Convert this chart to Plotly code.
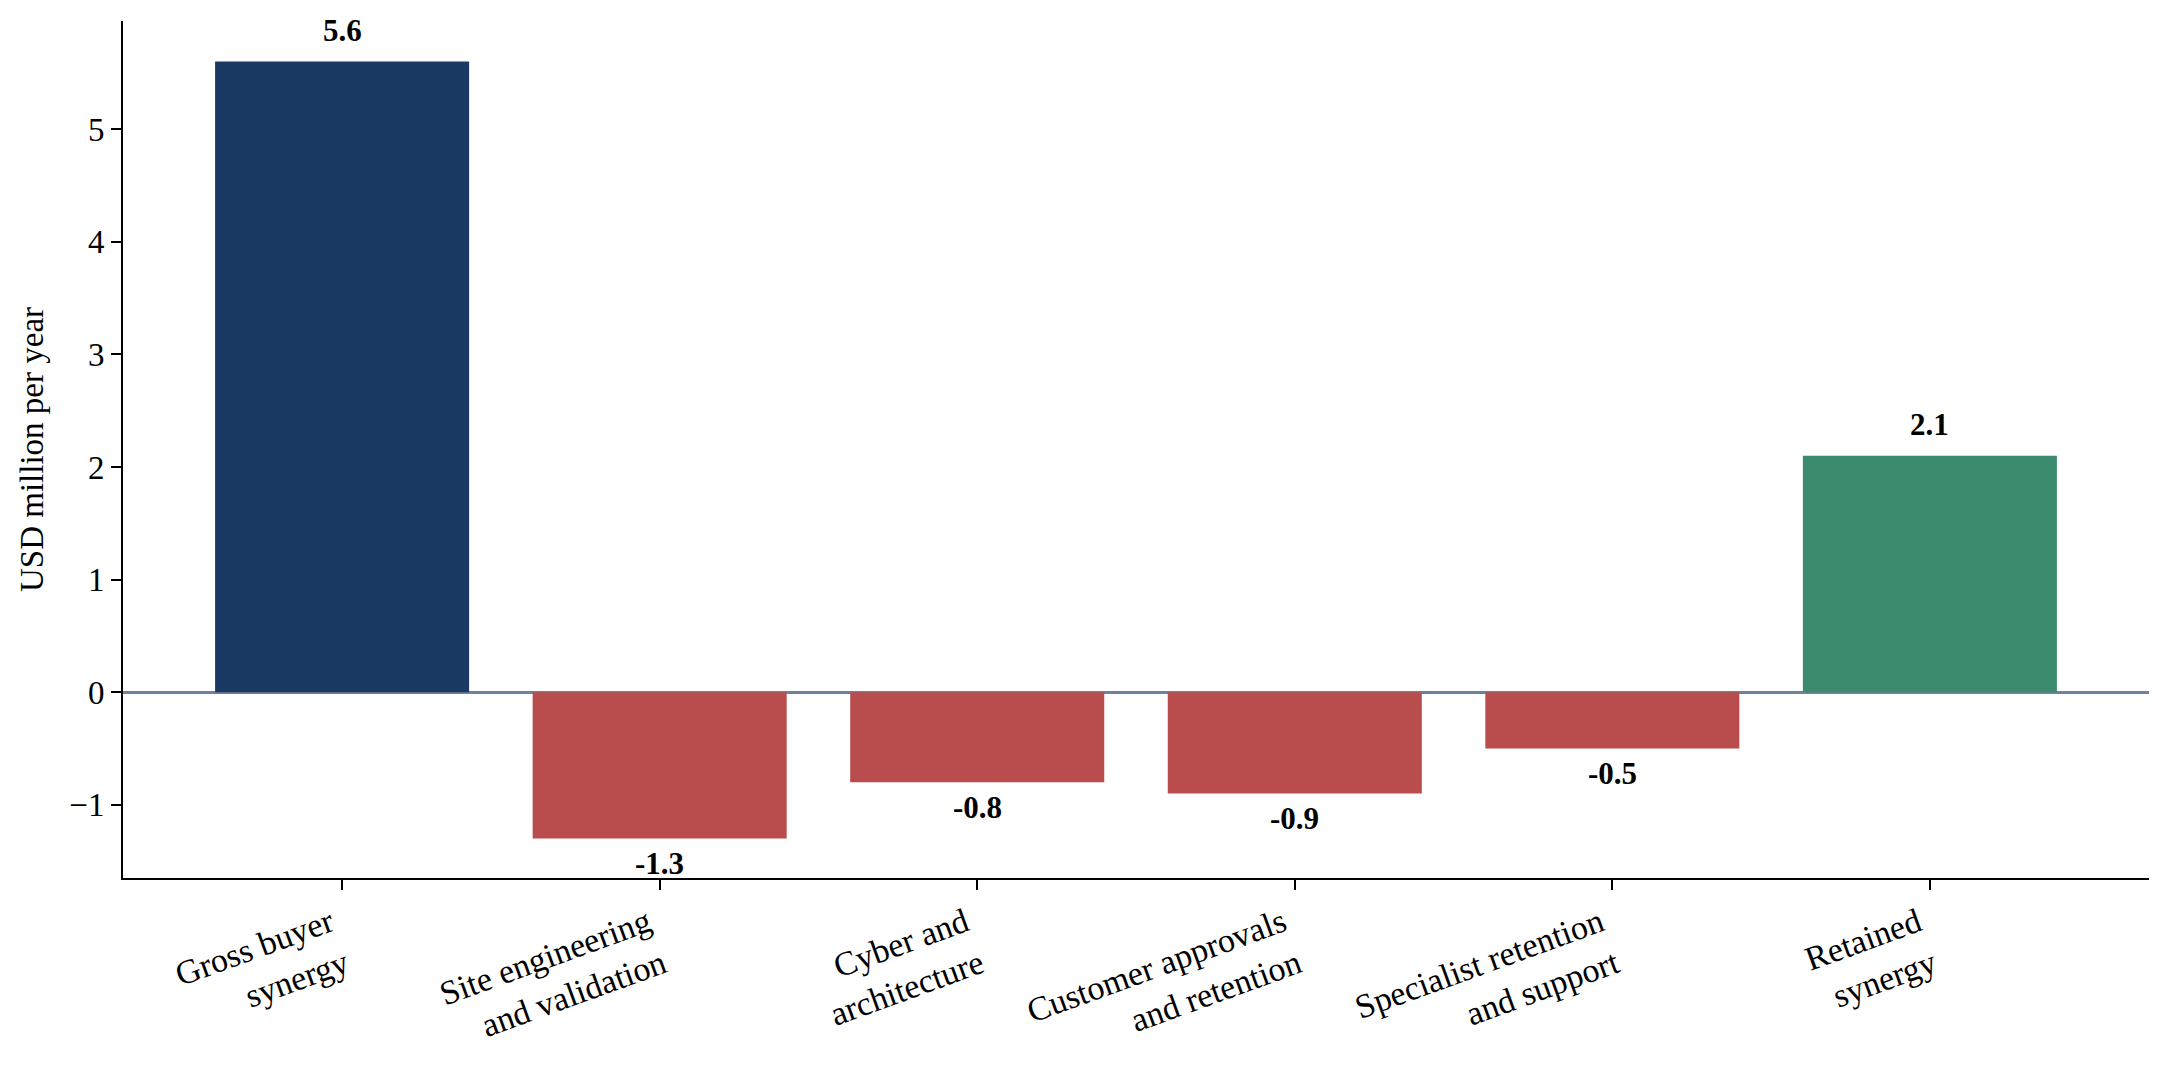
import plotly.graph_objects as go

categories = ["Gross buyer<br>synergy", "Site engineering<br>and validation", "Cyber and<br>architecture",
              "Customer approvals<br>and retention", "Specialist retention<br>and support", "Retained<br>synergy"]
values = [5.6, -1.3, -0.8, -0.9, -0.5, 2.1]
value_labels = ["5.6", "-1.3", "-0.8", "-0.9", "-0.5", "2.1"]
bar_colors = ["#1b3a63", "#b94c4c", "#b94c4c", "#b94c4c", "#b94c4c", "#3c8b6e"]
y_ticks = [-1, 0, 1, 2, 3, 4, 5]

FONT = "Liberation Serif, Times New Roman, serif"
xs = list(range(len(categories)))

fig = go.Figure()
fig.add_trace(go.Bar(x=xs, y=values, marker=dict(color=bar_colors, line=dict(width=0)),
                     width=0.8, hoverinfo="skip"))

for i, (v, lab) in enumerate(zip(values, value_labels)):
    fig.add_annotation(x=i, y=v, xref="x", yref="y", text=f"<b>{lab}</b>", showarrow=False,
                       yanchor="middle", yshift=31 if v >= 0 else -25,
                       font=dict(family=FONT, size=31, color="black"))

fig.update_layout(
    width=2171, height=1071,
    margin=dict(l=115, r=30, t=13, b=201),
    paper_bgcolor="white", plot_bgcolor="white",
    showlegend=False,
    font=dict(family=FONT, size=33, color="black"),
)
fig.update_xaxes(
    tickmode="array", tickvals=xs, ticktext=categories, tickangle=-20,
    range=[-0.69, 5.69], showline=True, linecolor="black", linewidth=2,
    ticks="outside", ticklen=10, tickwidth=2, tickcolor="black",
    ticklabelshift=-12, automargin=False,
    showgrid=False, zeroline=False, tickfont=dict(family=FONT, size=34, color="black"),
)
fig.update_yaxes(
    tickmode="array", tickvals=y_ticks, range=[-1.65, 5.96],
    showline=True, linecolor="black", linewidth=2,
    ticks="outside", ticklen=10, tickwidth=2, tickcolor="black",
    showgrid=False, zeroline=True, zerolinecolor="#6e82a0", zerolinewidth=2.5,
    layer="above traces", automargin=False,
    title=dict(text="USD million per year", font=dict(family=FONT, size=33, color="black"), standoff=16),
    tickfont=dict(family=FONT, size=33, color="black"),
)

fig.write_html("out.html")
